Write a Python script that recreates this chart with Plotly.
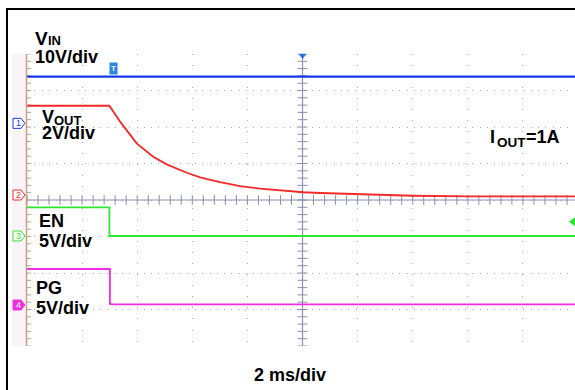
import numpy as np
import plotly.graph_objects as go

# ---------------- data (time in ms, values in volts) ----------------
vin_t = [-10.0, 9.89]
vin_v = [12.8, 12.8]

vout_t = [-10.0, -7.01, -6.62, -6.02, -5.42, -4.93, -4.20, -3.72, -2.99, -2.27,
          -1.54, -0.82, 0.03, 0.64, 2.01, 4.01, 6.01, 9.89]
vout_v = [4.89, 4.89, 4.02, 2.83, 2.10, 1.68, 1.22, 0.97, 0.70, 0.49,
          0.35, 0.24, 0.15, 0.11, 0.04, -0.04, -0.07, -0.08]

en_t = [-10.0, -7.01, -7.01, 9.89]
en_v = [3.93, 3.93, 0.0, 0.0]

pg_t = [-10.0, -6.99, -6.99, -6.85, 9.89]
pg_v = [4.93, 4.93, 0.15, 0.1, 0.1]

ch_names = ["1", "2", "3", "4"]
ch_scale = [10.0, 2.0, 5.0, 5.0]          # V/div
ch_offset = [2.10, 0.137, -0.986, -2.877]  # ground position in divisions
ch_color = ["#1538e6", "#f42a2a", "#2ee62e", "#ee2ee0"]

# ---------------- geometry helpers ----------------
W, H = 575, 390
PX_L, PX_R = 27, 575
PY_T, PY_B = 54, 346
T_MIN, T_MAX = -10.0, 9.89
D_MIN, D_MAX = -4.0, 4.0
PX_PER_DIV_Y = (PY_B - PY_T) / (D_MAX - D_MIN)
FAMILY = "Liberation Sans, Arial"


def tx(px):
    return T_MIN + (px - PX_L) * (T_MAX - T_MIN) / (PX_R - PX_L)


def dy(py):
    return D_MAX - (py - PY_T) * (D_MAX - D_MIN) / (PY_B - PY_T)


def pxp(px):
    return (px - PX_L) / (PX_R - PX_L)


def pyp(py):
    return (PY_B - py) / (PY_B - PY_T)


def div_to_py(d):
    return PY_T + (D_MAX - d) * PX_PER_DIV_Y


def to_div(vals, ch):
    return [ch_offset[ch] + v / ch_scale[ch] for v in vals]


fig = go.Figure()

CENTER = "#8a90b2"
# center-line ticks
xt = np.round(np.arange(T_MIN, T_MAX + 1e-9, 0.4), 3)
fig.add_trace(go.Scatter(x=xt, y=[0] * len(xt), mode="markers",
                         marker=dict(symbol="line-ns", size=7, line=dict(color=CENTER, width=1)),
                         hoverinfo="skip", showlegend=False))
yt = np.round(np.arange(D_MIN, D_MAX + 1e-9, 0.2), 3)
fig.add_trace(go.Scatter(x=[0] * len(yt), y=yt, mode="markers",
                         marker=dict(symbol="line-ew", size=7, line=dict(color=CENTER, width=1)),
                         hoverinfo="skip", showlegend=False))
# left edge ticks
fig.add_trace(go.Scatter(x=[T_MIN] * len(yt), y=yt, mode="markers",
                         marker=dict(symbol="line-ew", size=6, line=dict(color="#a8a8a8", width=1)),
                         hoverinfo="skip", showlegend=False))

# signal traces
fig.add_trace(go.Scatter(x=vin_t, y=to_div(vin_v, 0), mode="lines",
                         line=dict(color=ch_color[0], width=2.2), showlegend=False))
fig.add_trace(go.Scatter(x=vout_t, y=to_div(vout_v, 1), mode="lines",
                         line=dict(color=ch_color[1], width=1.8), showlegend=False))
fig.add_trace(go.Scatter(x=en_t, y=to_div(en_v, 2), mode="lines",
                         line=dict(color=ch_color[2], width=1.8), showlegend=False))
fig.add_trace(go.Scatter(x=pg_t, y=to_div(pg_v, 3), mode="lines",
                         line=dict(color=ch_color[3], width=1.8), showlegend=False))

# trigger position marker (top center) and trigger level marker (right)
fig.add_trace(go.Scatter(x=[0], y=[dy(55.5)], mode="markers", cliponaxis=False,
                         marker=dict(symbol="triangle-down", size=7, color="#2a6df0"),
                         hoverinfo="skip", showlegend=False))
fig.add_trace(go.Scatter(x=[tx(573)], y=[dy(221.7)], mode="markers", cliponaxis=False,
                         marker=dict(symbol="triangle-left", size=8, color=ch_color[2]),
                         hoverinfo="skip", showlegend=False))

shapes = []
# faint strip left of the graticule
shapes.append(dict(type="rect", xref="paper", yref="paper", x0=pxp(12), x1=pxp(26), y0=0, y1=1,
                   fillcolor="#fbf4fb", line=dict(width=0), layer="below"))
# center lines
shapes.append(dict(type="line", xref="x", yref="paper", x0=0, x1=0, y0=0, y1=1,
                   line=dict(color=CENTER, width=1.2), layer="below"))
shapes.append(dict(type="line", xref="paper", yref="y", x0=0, x1=1, y0=0, y1=0,
                   line=dict(color=CENTER, width=1.2), layer="below"))
# tan left edge
shapes.append(dict(type="line", xref="paper", yref="paper", x0=pxp(26.5), x1=pxp(26.5), y0=0, y1=1,
                   line=dict(color="#c8a079", width=1.5)))
# black frame
shapes.append(dict(type="line", xref="paper", yref="paper", x0=pxp(7), x1=pxp(7), y0=pyp(8), y1=pyp(392),
                   line=dict(color="black", width=2)))
shapes.append(dict(type="line", xref="paper", yref="paper", x0=pxp(6), x1=pxp(580), y0=pyp(9), y1=pyp(9),
                   line=dict(color="black", width=2)))

annotations = []
# channel ground markers (shape below, digit on top)
for i in range(4):
    filled = (i == 3)
    shapes.append(dict(type="path", xref="paper", yref="y", xanchor=0, yanchor=ch_offset[i],
                       xsizemode="pixel", ysizemode="pixel", layer="below",
                       path="M-14,-5 L-6,-5 L-2,0 L-6,5 L-14,5 Z",
                       fillcolor=ch_color[i] if filled else "white",
                       line=dict(color=ch_color[i], width=1)))
    annotations.append(dict(xref="paper", yref="paper", x=pxp(18.5), y=pyp(div_to_py(ch_offset[i])),
                            xanchor="center", yanchor="middle", text=ch_names[i], showarrow=False,
                            borderpad=0, borderwidth=0,
                            font=dict(size=9, family=FAMILY, color="white" if filled else ch_color[i])))

# trigger "T" badge
annotations.append(dict(xref="paper", yref="paper", x=pxp(109), y=pyp(62.5), text="<b>T</b>", showarrow=False,
                        bgcolor="#2a84e6", borderpad=1, font=dict(size=8, color="white", family=FAMILY)))


def add_text(txt, left, baseline, size=18, anchor="left"):
    cy = baseline - 0.3465 * size
    annotations.append(dict(xref="paper", yref="paper", x=pxp(left), y=pyp(cy), xanchor=anchor,
                            yanchor="middle", text="<b>" + txt + "</b>", showarrow=False,
                            borderpad=0, borderwidth=0,
                            font=dict(family=FAMILY, size=size, color="black")))


add_text("V", 35, 45, 19)
add_text("IN", 47.5, 45, 13)
add_text("10V/div", 35, 63)
add_text("V", 42, 123.5)
add_text("OUT", 54, 125, 13)
add_text("2V/div", 42, 139.5)
add_text("EN", 39, 227)
add_text("5V/div", 39, 247.5)
add_text("PG", 36, 294)
add_text("5V/div", 36, 314)
add_text("I", 490, 143)
add_text("OUT", 496.5, 147.5, 13.5)
add_text("=1A", 526, 143)
add_text("2 ms/div", 290, 381.5, 18, anchor="center")

fig.update_layout(
    width=W, height=H,
    margin=dict(l=PX_L, r=W - PX_R, t=PY_T, b=H - PY_B, pad=0, autoexpand=False),
    paper_bgcolor="white", plot_bgcolor="white",
    shapes=shapes, annotations=annotations, showlegend=False,
)
fig.update_xaxes(range=[T_MIN, T_MAX], tick0=-10, dtick=2, showgrid=True, gridcolor="#a9a9a9",
                 gridwidth=1, griddash="1px,10.02px", zeroline=False, showticklabels=False,
                 ticks="", showline=False, fixedrange=True)
fig.update_yaxes(range=[D_MIN, D_MAX], tick0=0, dtick=1, showgrid=True, gridcolor="#a9a9a9",
                 gridwidth=1, griddash="1px,6.3px", zeroline=False, showticklabels=False,
                 ticks="", showline=False, fixedrange=True)

fig.write_html("out.html", config={"displayModeBar": False},
               post_script="document.body.style.margin='0';document.body.style.overflow='hidden';")
